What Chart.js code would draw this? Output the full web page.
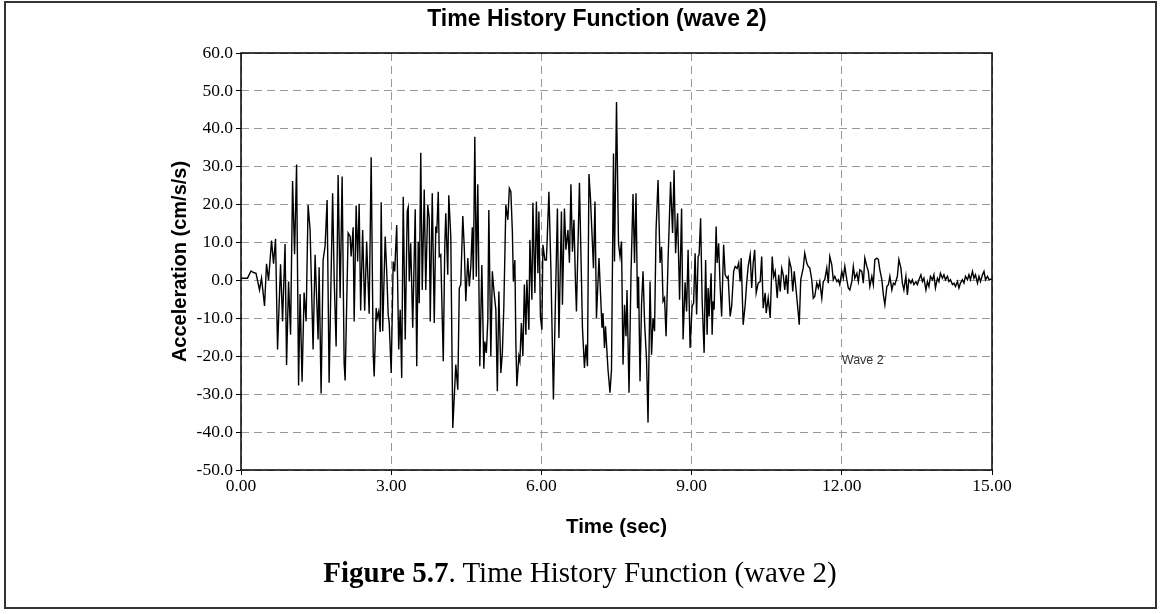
<!DOCTYPE html>
<html><head><meta charset="utf-8">
<script src="https://cdn.jsdelivr.net/npm/chart.js@4.4.1/dist/chart.umd.min.js"></script>
<style>
html,body{margin:0;padding:0;background:#fff;}
#wrap{position:relative;width:1160px;height:614px;overflow:hidden;background:#fff;}
#frame{position:absolute;left:4px;top:1px;width:1153px;height:608px;border:2px solid #333;box-sizing:border-box;}
#c{position:absolute;left:0;top:0;}
#title{position:absolute;left:0;top:4px;width:1194px;text-align:center;font:bold 23px "Liberation Sans",Arial,sans-serif;line-height:28px;color:#000;}
#caption{position:absolute;left:0;top:555px;width:1160px;text-align:center;font:29px "Liberation Serif","Times New Roman",serif;line-height:34px;color:#000;}
</style></head>
<body>
<div id="wrap">
<div id="frame"></div>
<canvas id="c" width="1160" height="614"></canvas>
<div id="title">Time History Function (wave 2)</div>
<div id="caption"><b>Figure 5.7</b>. Time History Function (wave 2)</div>
</div>
<script>
const seriesName = "Wave 2";
const xTickValues = [0, 3, 6, 9, 12, 15];
const yTickValues = [-50, -40, -30, -20, -10, 0, 10, 20, 30, 40, 50, 60];
const time = [
0.00,0.13,0.20,0.25,0.30,0.37,0.41,0.47,0.51,0.55,0.61,0.65,0.69,0.73,0.79,0.83,0.88,0.91,0.95,0.99,
1.03,1.07,1.11,1.15,1.18,1.22,1.26,1.30,1.34,1.38,1.44,1.48,1.54,1.56,1.60,1.64,1.68,1.72,1.76,
1.83,1.86,1.90,1.94,1.98,2.02,2.06,2.08,2.14,2.18,2.20,2.24,2.26,2.30,2.33,2.36,2.39,2.43,2.47,2.51,
2.56,2.60,2.64,2.66,2.70,2.72,2.75,2.78,2.80,2.83,2.88,2.91,2.94,2.96,3.00,3.04,3.07,3.11,3.15,3.18,
3.21,3.24,3.28,3.32,3.34,3.36,3.39,3.43,3.48,3.51,3.54,3.56,3.59,3.62,3.66,3.69,
3.73,3.76,3.78,3.82,3.86,3.89,3.91,3.94,3.96,3.99,4.04,4.07,4.09,4.13,4.15,4.19,4.23,4.29,4.33,4.36,
4.39,4.43,4.46,4.49,4.53,4.56,4.59,4.62,4.64,4.67,4.70,4.73,4.77,4.81,4.85,4.87,4.90,4.93,4.95,4.99,
5.02,5.05,5.09,5.12,5.15,5.19,5.22,5.25,5.29,5.33,5.36,5.39,5.42,5.44,5.47,5.49,5.51,5.55,5.57,
5.60,5.63,5.66,5.69,5.71,5.75,5.77,5.81,5.83,5.87,5.90,5.93,5.95,5.98,6.01,6.03,6.07,6.10,6.15,6.19,
6.24,6.28,6.32,6.35,6.40,6.42,6.46,6.49,6.53,6.56,6.59,6.62,6.65,6.68,6.70,6.76,6.82,6.86,6.89,6.92,
6.95,6.98,7.04,7.07,7.10,7.15,7.21,7.23,7.26,7.28,7.33,7.37,7.40,7.44,
7.46,7.50,7.54,7.57,7.60,7.63,7.66,7.69,7.71,7.75,7.79,7.83,7.86,7.89,7.92,7.94,7.97,8.00,8.03,8.06,
8.10,8.13,8.17,8.20,8.23,8.26,8.29,8.33,8.37,8.40,8.43,8.46,8.49,8.53,8.58,8.62,8.65,8.68,8.72,8.76,
8.80,8.83,8.87,8.90,8.93,8.97,9.01,9.04,9.07,9.10,9.13,9.15,9.18,9.21,9.25,9.28,9.31,
9.33,9.35,9.39,9.41,9.43,9.45,9.49,9.51,9.54,9.57,9.60,9.64,9.67,9.71,9.73,9.77,9.80,9.84,9.87,9.91,
9.94,9.97,9.99,10.03,10.07,10.10,10.13,10.17,10.20,10.23,10.26,10.29,10.33,10.37,10.40,10.43,10.47,10.49,10.53,10.57,
10.61,10.64,10.67,10.71,10.74,10.77,10.80,10.83,10.86,10.89,10.92,10.95,10.99,11.02,11.05,11.09,11.13,11.15,11.18,
11.23,11.26,11.30,11.33,11.36,11.40,11.43,11.46,11.50,11.53,11.56,11.60,11.63,11.66,11.70,11.73,11.76,11.80,11.83,11.86,
11.90,11.93,11.96,12.00,12.03,12.06,12.10,12.13,12.16,12.20,12.23,12.26,12.30,12.33,12.36,12.40,12.43,12.46,12.50,12.53,
12.56,12.60,12.63,12.66,12.70,12.73,12.76,12.80,12.83,12.86,12.90,12.93,12.96,13.00,13.03,13.06,
13.11,13.14,13.18,13.21,13.24,13.28,13.31,13.34,13.38,13.41,13.44,13.48,13.51,13.54,13.58,13.61,13.64,13.68,13.71,13.74,
13.77,13.81,13.84,13.87,13.91,13.94,13.97,14.01,14.04,14.07,14.11,14.14,14.17,14.21,14.24,14.27,14.31,14.34,14.37,14.41,
14.44,14.47,14.51,14.54,14.57,14.61,14.64,14.67,14.71,14.74,14.77,14.81,14.84,14.87,14.91,14.94,15.00
];
const accel = [
0.6,0.6,2.5,2.1,1.9,-2.5,0.6,-6.7,4.4,0.0,10.5,4.4,11.0,-18.2,4.3,-10.8,9.6,-22.3,-0.3,-14.3,
26.2,6.9,30.6,-27.7,-3.6,-26.7,-3.2,-10.8,19.9,13.3,-18.2,6.8,-15.6,3.5,-29.8,5.4,9.1,21.2,-27.0,
23.0,1.0,-17.4,27.8,-4.6,27.4,-21.8,-26.4,12.5,11.6,6.3,14.0,-10.8,19.8,5.0,20.2,-7.9,13.3,-8.0,10.3,
-8.8,32.5,-19.1,-25.3,-7.3,-9.9,-8.2,-13.6,20.6,-13.4,11.6,2.4,-9.0,-11.2,-24.4,5.0,2.4,14.6,-18.2,-7.7,
-25.7,22.1,-15.6,18.2,19.3,-0.3,9.8,-12.5,18.8,-22.6,10.3,-6.0,33.7,-2.5,24.0,-2.5,
19.9,16.4,-10.8,23.0,-11.2,14.2,12.5,23.4,6.3,6.8,-21.3,8.9,17.7,1.5,22.5,11.6,-38.9,-22.2,-28.8,-2.0,
-1.1,17.0,8.5,-5.5,5.9,-1.6,3.7,14.0,0.2,37.9,1.0,25.4,-22.6,4.1,-23.3,-16.1,-19.1,-10.4,18.6,-20.0,
2.4,-2.5,-7.7,-29.2,-2.9,-24.4,-19.1,-6.8,19.9,16.0,24.3,23.4,12.9,-0.3,5.4,-16.5,-27.9,-20.0,-21.3,
-11.2,-20.0,-1.1,-14.3,0.2,-13.0,10.7,-5.1,20.5,-3.3,20.8,1.9,18.2,-9.5,-13.0,9.4,5.4,5.4,23.4,2.8,
-31.4,-5.5,19.0,-15.2,18.2,-6.4,19.0,8.1,13.3,4.7,25.4,7.6,16.0,-0.3,-8.2,25.8,-12.5,-23.1,-16.9,-22.6,
28.1,21.7,3.2,20.8,-9.9,5.9,-12.5,-8.6,-17.8,-12.1,-23.5,-29.6,-23.5,33.5,
5.0,47.1,9.8,6.3,10.3,-22.2,-6.4,-14.7,-2.5,-29.6,1.9,22.8,4.6,23.0,-7.3,1.0,-26.6,-6.4,2.4,-10.8,
-20.9,-37.5,-0.3,-19.6,-9.9,-13.4,13.3,26.5,4.6,8.9,-5.5,-4.6,-14.7,5.4,26.0,12.5,29.1,7.2,17.7,-5.1,
19.0,-15.6,-0.5,-8.2,8.1,-17.8,-6.8,-6.0,7.2,-9.0,6.3,6.8,16.4,-5.1,-19.1,5.4,-14.3,
-2.0,-9.5,1.9,-14.3,-5.5,-7.7,14.2,4.6,9.8,-1.6,-9.5,9.4,1.5,0.6,1.0,-9.5,-6.8,2.4,3.7,3.2,
4.6,-0.3,5.9,-11.7,-6.4,-0.7,3.7,6.8,-2.0,4.6,8.1,-3.3,-0.7,-0.3,6.3,-7.3,-3.3,-8.6,-4.6,-9.9,
6.3,1.0,2.4,-4.6,1.5,-2.9,3.2,1.5,-2.5,1.5,-3.5,5.4,3.2,-2.9,2.4,-2.9,-8.6,-11.7,0.2,
3.3,7.2,4.6,3.7,3.3,0.2,-4.7,-4.2,-0.7,-2.0,-0.3,-4.7,-0.3,0.2,3.3,-0.7,6.3,4.1,0.2,1.1,
-0.3,0.2,-1.1,2.4,0.6,3.7,0.2,-2.0,-2.5,-0.3,3.7,0.6,1.9,-0.3,2.8,2.4,-0.7,5.9,3.7,2.4,
-1.6,1.1,-1.1,5.5,5.9,5.5,2.8,0.2,-3.8,-6.4,-1.6,-1.1,1.1,-2.5,-0.7,-1.1,
1.1,5.5,3.3,-0.7,-2.5,1.1,-3.8,0.2,-0.7,0.2,-1.1,-0.3,-1.1,0.2,1.5,-0.3,0.6,-2.5,-0.3,-1.6,
1.1,0.2,1.5,-2.0,0.6,-0.3,1.9,0.6,1.5,0.2,1.1,-0.3,0.2,-1.1,-0.7,-1.6,-0.3,-2.0,-0.7,0.2,
-0.7,1.1,0.2,1.5,0.2,2.4,0.6,1.5,-0.7,1.1,-0.3,1.5,2.4,0.2,1.1,0.2,0.4
];

const points = time.map((t, i) => ({x: t, y: accel[i]}));

const frameBox = {
  id: 'frameBox',
  beforeDatasetsDraw(chart) {
    const {ctx, chartArea: a} = chart;
    ctx.save();
    ctx.strokeStyle = '#000';
    ctx.lineWidth = 1.5;
    ctx.strokeRect(a.left, a.top, a.right - a.left, a.bottom - a.top);
    ctx.restore();
  }
};
const waveLabel = {
  id: 'waveLabel',
  afterDatasetsDraw(chart) {
    const {ctx, scales: {x, y}} = chart;
    ctx.save();
    ctx.font = '12.5px "Liberation Sans", Arial, sans-serif';
    ctx.fillStyle = '#333';
    ctx.textAlign = 'left';
    ctx.textBaseline = 'middle';
    ctx.fillText(seriesName, x.getPixelForValue(12.0), y.getPixelForValue(-21));
    ctx.restore();
  }
};

new Chart(document.getElementById('c'), {
  type: 'line',
  data: {
    datasets: [{
      label: seriesName,
      data: points,
      borderColor: '#000',
      borderWidth: 1.4,
      pointRadius: 0,
      tension: 0,
      fill: false
    }]
  },
  options: {
    responsive: false,
    animation: false,
    devicePixelRatio: 1,
    layout: {padding: {left: 160, right: 168, top: 53, bottom: 74}},
    plugins: {legend: {display: false}, title: {display: false}, tooltip: {enabled: false}},
    scales: {
      x: {
        type: 'linear',
        min: 0, max: 15,
        afterBuildTicks(s) { s.ticks = xTickValues.map(v => ({value: v})); },
        afterFit(s) { s.height = 70; },
        ticks: {
          callback: v => Number(v).toFixed(2),
          color: '#000',
          padding: 1,
          maxRotation: 0,
          font: {family: '"Liberation Serif", "Times New Roman", serif', size: 17.5}
        },
        grid: {color: '#999', lineWidth: 1, tickLength: 5, tickColor: '#000'},
        border: {display: false, dash: [8, 5]},
        title: {
          display: true, text: 'Time (sec)', color: '#000',
          padding: {top: 0, bottom: 0},
          font: {family: '"Liberation Sans", Arial, sans-serif', size: 20.5, weight: 'bold'}
        }
      },
      y: {
        type: 'linear',
        min: -50, max: 60,
        afterBuildTicks(s) { s.ticks = yTickValues.map(v => ({value: v})); },
        afterFit(s) { s.width = 81; },
        ticks: {
          callback: v => Number(v).toFixed(1),
          color: '#000',
          padding: 3,
          font: {family: '"Liberation Serif", "Times New Roman", serif', size: 17.5}
        },
        grid: {color: '#999', lineWidth: 1, tickLength: 5, tickColor: '#000'},
        border: {display: false, dash: [8, 5]},
        title: {
          display: true, text: 'Acceleration (cm/s/s)', color: '#000',
          padding: {top: 8, bottom: 0},
          font: {family: '"Liberation Sans", Arial, sans-serif', size: 20, weight: 'bold'}
        }
      }
    }
  },
  plugins: [frameBox, waveLabel]
});
</script>
</body></html>
